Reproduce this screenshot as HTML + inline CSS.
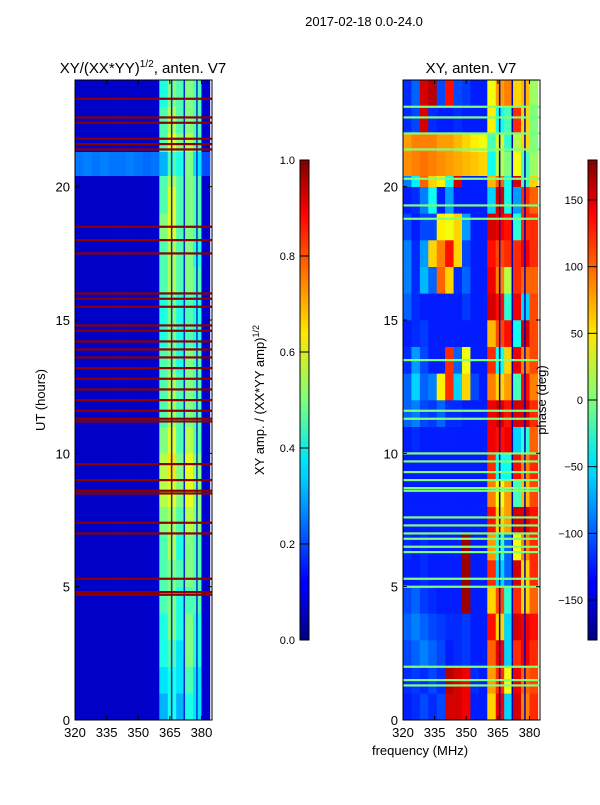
<!DOCTYPE html>
<html><head><meta charset="utf-8"><style>
body{margin:0;background:#fff;font-family:"Liberation Sans",sans-serif;}
svg text{font-family:"Liberation Sans",sans-serif;fill:#000;}
</style></head><body>
<svg id="fig" width="600" height="800" xmlns="http://www.w3.org/2000/svg">
<rect width="600" height="800" fill="#fff"/>
<text x="364" y="26" font-size="13" text-anchor="middle">2017-02-18 0.0-24.0</text>
<text x="143" y="73" font-size="15" text-anchor="middle">XY/(XX*YY)<tspan font-size="10" dy="-6">1/2</tspan><tspan dy="6">, anten. V7</tspan></text>
<text x="471" y="73" font-size="15" text-anchor="middle">XY, anten. V7</text>
<text transform="translate(45,400) rotate(-90)" font-size="13" text-anchor="middle">UT (hours)</text>
<text x="420" y="755" font-size="13" text-anchor="middle">frequency (MHz)</text>
<text transform="translate(264,400) rotate(-90)" font-size="13" text-anchor="middle">XY amp. / (XX*YY amp)<tspan font-size="9" dy="-5">1/2</tspan></text>
<g id="left"></g>
<g id="right"></g>
<g id="axes"></g>
<text transform="translate(546,400) rotate(-90)" font-size="13" text-anchor="middle">phase (deg)</text>
<defs>
<linearGradient id="jet" x1="0" y1="1" x2="0" y2="0">
<stop offset="0" stop-color="#000080"/><stop offset="0.11" stop-color="#0000ff"/><stop offset="0.125" stop-color="#0000ff"/><stop offset="0.34" stop-color="#00d0ff"/><stop offset="0.375" stop-color="#00e5f8"/><stop offset="0.5" stop-color="#7dff7a"/><stop offset="0.64" stop-color="#ffe600"/><stop offset="0.75" stop-color="#ff8000"/><stop offset="0.89" stop-color="#ff0000"/><stop offset="1" stop-color="#800000"/>
</linearGradient>
</defs>
<rect x="300" y="160" width="9" height="480" fill="url(#jet)" stroke="#000" stroke-width="1"/>
<rect x="588" y="160" width="9" height="480" fill="url(#jet)" stroke="#000" stroke-width="1"/>
<g id="cb"></g>
</svg>
<script>
// ---- data ----
const freqCols = [320,324,328,332,336,340,344,348,352,356,360,364,368,372,376,380];
const utRows = [0,1,2,3,4,5,6,7,8,9,10,11,12,13,14,15,16,17,18,19,20,21,22,23];
const ampGrid = [
[.07,.07,.07,.07,.07,.07,.07,.07,.07,.08,.3,.4,.3,.4,.35,.08],
[.07,.07,.07,.07,.07,.07,.07,.07,.07,.08,.35,.4,.35,.45,.35,.08],
[.07,.07,.07,.07,.07,.07,.07,.07,.07,.08,.4,.45,.35,.5,.4,.08],
[.07,.07,.07,.07,.07,.07,.07,.07,.07,.08,.4,.5,.4,.5,.4,.08],
[.07,.07,.07,.07,.07,.07,.07,.07,.07,.08,.45,.5,.4,.45,.45,.08],
[.07,.07,.07,.07,.07,.07,.07,.07,.07,.08,.45,.5,.45,.5,.45,.08],
[.07,.07,.07,.07,.07,.07,.07,.07,.07,.08,.45,.55,.4,.5,.45,.08],
[.07,.07,.07,.07,.07,.07,.07,.07,.07,.08,.5,.55,.45,.55,.5,.08],
[.07,.07,.07,.07,.07,.07,.07,.07,.07,.08,.55,.6,.5,.6,.5,.08],
[.07,.07,.07,.07,.07,.07,.07,.07,.07,.08,.55,.65,.5,.6,.5,.08],
[.07,.07,.07,.07,.07,.07,.07,.07,.07,.08,.5,.6,.45,.55,.45,.08],
[.07,.07,.07,.07,.07,.07,.07,.07,.07,.08,.45,.55,.45,.5,.45,.08],
[.07,.07,.07,.07,.07,.07,.07,.07,.07,.08,.45,.55,.45,.5,.45,.08],
[.07,.07,.07,.07,.07,.07,.07,.07,.07,.08,.45,.5,.4,.5,.45,.08],
[.07,.07,.07,.07,.07,.07,.07,.07,.07,.08,.4,.5,.4,.45,.4,.08],
[.07,.07,.07,.07,.07,.07,.07,.07,.07,.08,.4,.5,.4,.45,.4,.08],
[.07,.07,.07,.07,.07,.07,.07,.07,.07,.08,.45,.55,.45,.5,.45,.08],
[.07,.07,.07,.07,.07,.07,.07,.07,.07,.08,.45,.55,.45,.5,.4,.08],
[.07,.07,.07,.07,.07,.07,.07,.07,.07,.08,.5,.6,.45,.5,.45,.08],
[.07,.07,.07,.07,.07,.07,.07,.07,.07,.08,.45,.6,.45,.5,.45,.08],
[.07,.07,.07,.07,.07,.07,.07,.07,.07,.08,.45,.55,.45,.5,.45,.08],
[.07,.07,.07,.07,.07,.07,.07,.07,.07,.08,.45,.6,.5,.55,.45,.08],
[.07,.07,.07,.07,.07,.07,.07,.07,.07,.08,.45,.55,.45,.5,.45,.08],
[.07,.07,.07,.07,.07,.07,.07,.07,.07,.08,.4,.5,.45,.5,.45,.08]];
const phaseGrid = [
[-125,-120,-110,-120,-110,150,150,140,-125,-125,60,140,-60,150,90,120],
[-120,-115,-120,-110,-120,160,150,140,-120,-125,80,120,40,140,100,110],
[-110,-100,-90,-100,-110,-125,-120,-115,-125,-125,100,140,-60,120,140,120],
[-100,-90,-100,-110,-115,-120,-120,-115,-125,-125,130,60,-60,150,140,130],
[-110,-100,-115,-120,-125,-125,-125,170,-125,-125,60,110,-30,120,60,100],
[-125,-125,-120,-125,-125,-125,-125,170,-125,-125,120,-60,-100,150,60,120],
[-120,-125,-120,-125,-125,-125,-125,170,-125,-125,80,-30,-100,40,90,120],
[-125,-125,-125,-125,-125,-125,-125,-125,-125,-125,130,60,80,150,150,130],
[-125,-125,-125,-125,-125,-125,-125,-125,-125,-125,90,40,80,-20,70,110],
[-125,-125,-125,-125,-125,-125,-125,-125,-125,-125,120,-40,-40,130,90,120],
[-125,-120,-125,-125,-125,-125,-125,-125,-125,-125,140,130,140,-60,-30,100],
[-100,-90,-110,-115,-100,-120,-120,-125,-125,-125,140,150,130,150,150,120],
[-100,-60,-100,-90,50,120,-60,60,-110,-125,90,60,80,-20,130,90],
[-120,-80,-110,-125,-125,120,-100,40,-125,-125,120,-40,60,140,90,110],
[-125,-120,-115,-125,-125,-125,-125,-125,-125,-125,70,110,130,-40,150,110],
[-100,-120,-125,-125,-125,-125,-125,-115,-125,-125,150,130,-30,140,-60,110],
[-90,-120,-70,-100,100,60,-120,-100,-125,-125,140,90,20,120,100,100],
[-90,-120,-80,60,90,130,60,-110,-125,-125,130,110,120,120,140,120],
[-110,-125,-110,-110,50,40,60,-80,-125,-125,150,140,130,-30,120,120],
[-125,-120,-90,-40,-125,-80,-125,-125,-125,-125,-60,150,-40,-80,120,100],
[-90,-50,100,60,50,-40,150,-125,-125,-125,70,100,-40,150,-20,60],
[80,90,90,90,80,80,70,60,50,40,-20,30,-30,20,60,0],
[-120,-110,150,-120,-125,-125,-120,-125,-125,-125,50,-40,-20,120,60,0],
[-120,-100,150,160,-110,130,-110,-115,-125,-125,40,80,90,60,70,10]];
const bandUT = [20.4, 21.3];
const ampBandVals = [.24,.25,.24,.25,.24,.24,.25,.24,.23,.24,.3,.45,.4,.5,.35,.2];
const phaseBandVals = [85,90,95,90,85,80,75,70,65,60,-40,20,0,40,-20,10];
const ampFlagUT = [23.3,22.6,22.4,21.8,21.6,21.4,18.5,18.0,17.5,16.0,15.8,15.5,14.8,14.6,14.2,13.9,13.6,13.2,12.8,12.4,12.0,11.6,11.3,11.2,9.6,9.0,8.6,8.5,7.4,7.0,5.3,4.8,4.7];
const phaseFlagUT = [23.0,22.6,22.0,21.4,20.3,19.3,18.8,13.5,11.6,11.3,10.0,9.7,9.3,9.0,8.7,8.6,7.6,7.3,7.0,6.8,6.5,6.3,5.3,5.0,2.0,1.5,1.3];
const flagFreqs = [365.5, 371.5, 377.5];
const xTicks = [320,335,350,365,380];
const yTicks = [0,5,10,15,20];
const ampCbTicks = [0.0,0.2,0.4,0.6,0.8,1.0];
const phaseCbTicks = [-150,-100,-50,0,50,100,150];

// ---- helpers ----
const NS="http://www.w3.org/2000/svg";
const panels={left:75,right:403};
const PW=137, PT=80, PB=720;
const FMIN=320, FMAX=385;
function xs(f,x0){return x0+(f-FMIN)/(FMAX-FMIN)*PW;}
function ys(ut){return PB-ut/24*(PB-PT);}
function jet(v){v=Math.max(0,Math.min(1,v));
 const r=Math.min(4*v-1.5,-4*v+4.5), g=Math.min(4*v-0.5,-4*v+3.5), b=Math.min(4*v+0.5,-4*v+2.5);
 const c=x=>Math.round(255*Math.max(0,Math.min(1,x)));return `rgb(${c(r)},${c(g)},${c(b)})`;}
function mk(tag,attrs,parent){const e=document.createElementNS(NS,tag);for(const k in attrs)e.setAttribute(k,attrs[k]);parent.appendChild(e);return e;}
function drawPanel(gid,x0,grid,norm,bandVals,flags,flagColor,chanColor){
 const g=document.getElementById(gid);
 utRows.forEach((ut,i)=>{freqCols.forEach((f,j)=>{
  const r=mk('rect',{x:xs(f,x0),y:ys(ut+1),width:xs(f+4,x0)-xs(f,x0)+0.3,height:ys(ut)-ys(ut+1)+0.3,fill:jet(norm(grid[i][j]))},g);
  
  
 });});
 freqCols.forEach((f,j)=>{
  const r=mk('rect',{x:xs(f,x0),y:ys(bandUT[1]),width:xs(f+4,x0)-xs(f,x0)+0.3,height:ys(bandUT[0])-ys(bandUT[1]),fill:jet(norm(bandVals[j]))},g);
  
  
 });
 flagFreqs.forEach(f=>{
  const l=mk('rect',{x:xs(f,x0),y:PT,width:1.5,height:PB-PT,fill:chanColor},g);
  
  
 });
 flags.forEach(ut=>{
  const l=mk('rect',{x:x0,y:ys(ut)-1,width:PW,height:2.2,fill:flagColor},g);
  
  
 });
}
drawPanel('left',75,ampGrid,v=>v,ampBandVals,ampFlagUT,'#8b0000','#0a2acc');
drawPanel('right',403,phaseGrid,v=>(v+180)/360,phaseBandVals,phaseFlagUT,'#80ff7a','#0000b0');

const ax=document.getElementById('axes');
Object.entries(panels).forEach(([name,x0])=>{
 const fr=mk('rect',{x:x0,y:PT,width:PW,height:PB-PT,fill:'none',stroke:'#000','stroke-width':1},ax);
 
 
 xTicks.forEach(t=>{const x=xs(t,x0);
  mk('line',{x1:x,y1:PB,x2:x,y2:PB-4,stroke:'#000'},ax);mk('line',{x1:x,y1:PT,x2:x,y2:PT+4,stroke:'#000'},ax);
  const tx=mk('text',{x:x,y:PB+17,'font-size':13,'text-anchor':'middle'},ax);tx.textContent=t;
  
  });
 yTicks.forEach(t=>{const y=ys(t);
  mk('line',{x1:x0,y1:y,x2:x0+4,y2:y,stroke:'#000'},ax);mk('line',{x1:x0+PW,y1:y,x2:x0+PW-4,y2:y,stroke:'#000'},ax);
  const tx=mk('text',{x:x0-5,y:y+5,'font-size':13,'text-anchor':'end'},ax);tx.textContent=t;
  
  });
});
const cb=document.getElementById('cb');
ampCbTicks.forEach(t=>{const y=640-t*480;
 mk('line',{x1:300,y1:y,x2:309,y2:y,stroke:'#000'},cb);
 const tx=mk('text',{x:295,y:y+4,'font-size':11,'text-anchor':'end'},cb);tx.textContent=t.toFixed(1);
 
 });
phaseCbTicks.forEach(t=>{const y=640-(t+180)/360*480;
 mk('line',{x1:588,y1:y,x2:597,y2:y,stroke:'#000'},cb);
 const tx=mk('text',{x:583,y:y+4,'font-size':11,'text-anchor':'end'},cb);tx.textContent=t<0?'\u2212'+(-t):t;
 
 });
</script>
</body></html>
